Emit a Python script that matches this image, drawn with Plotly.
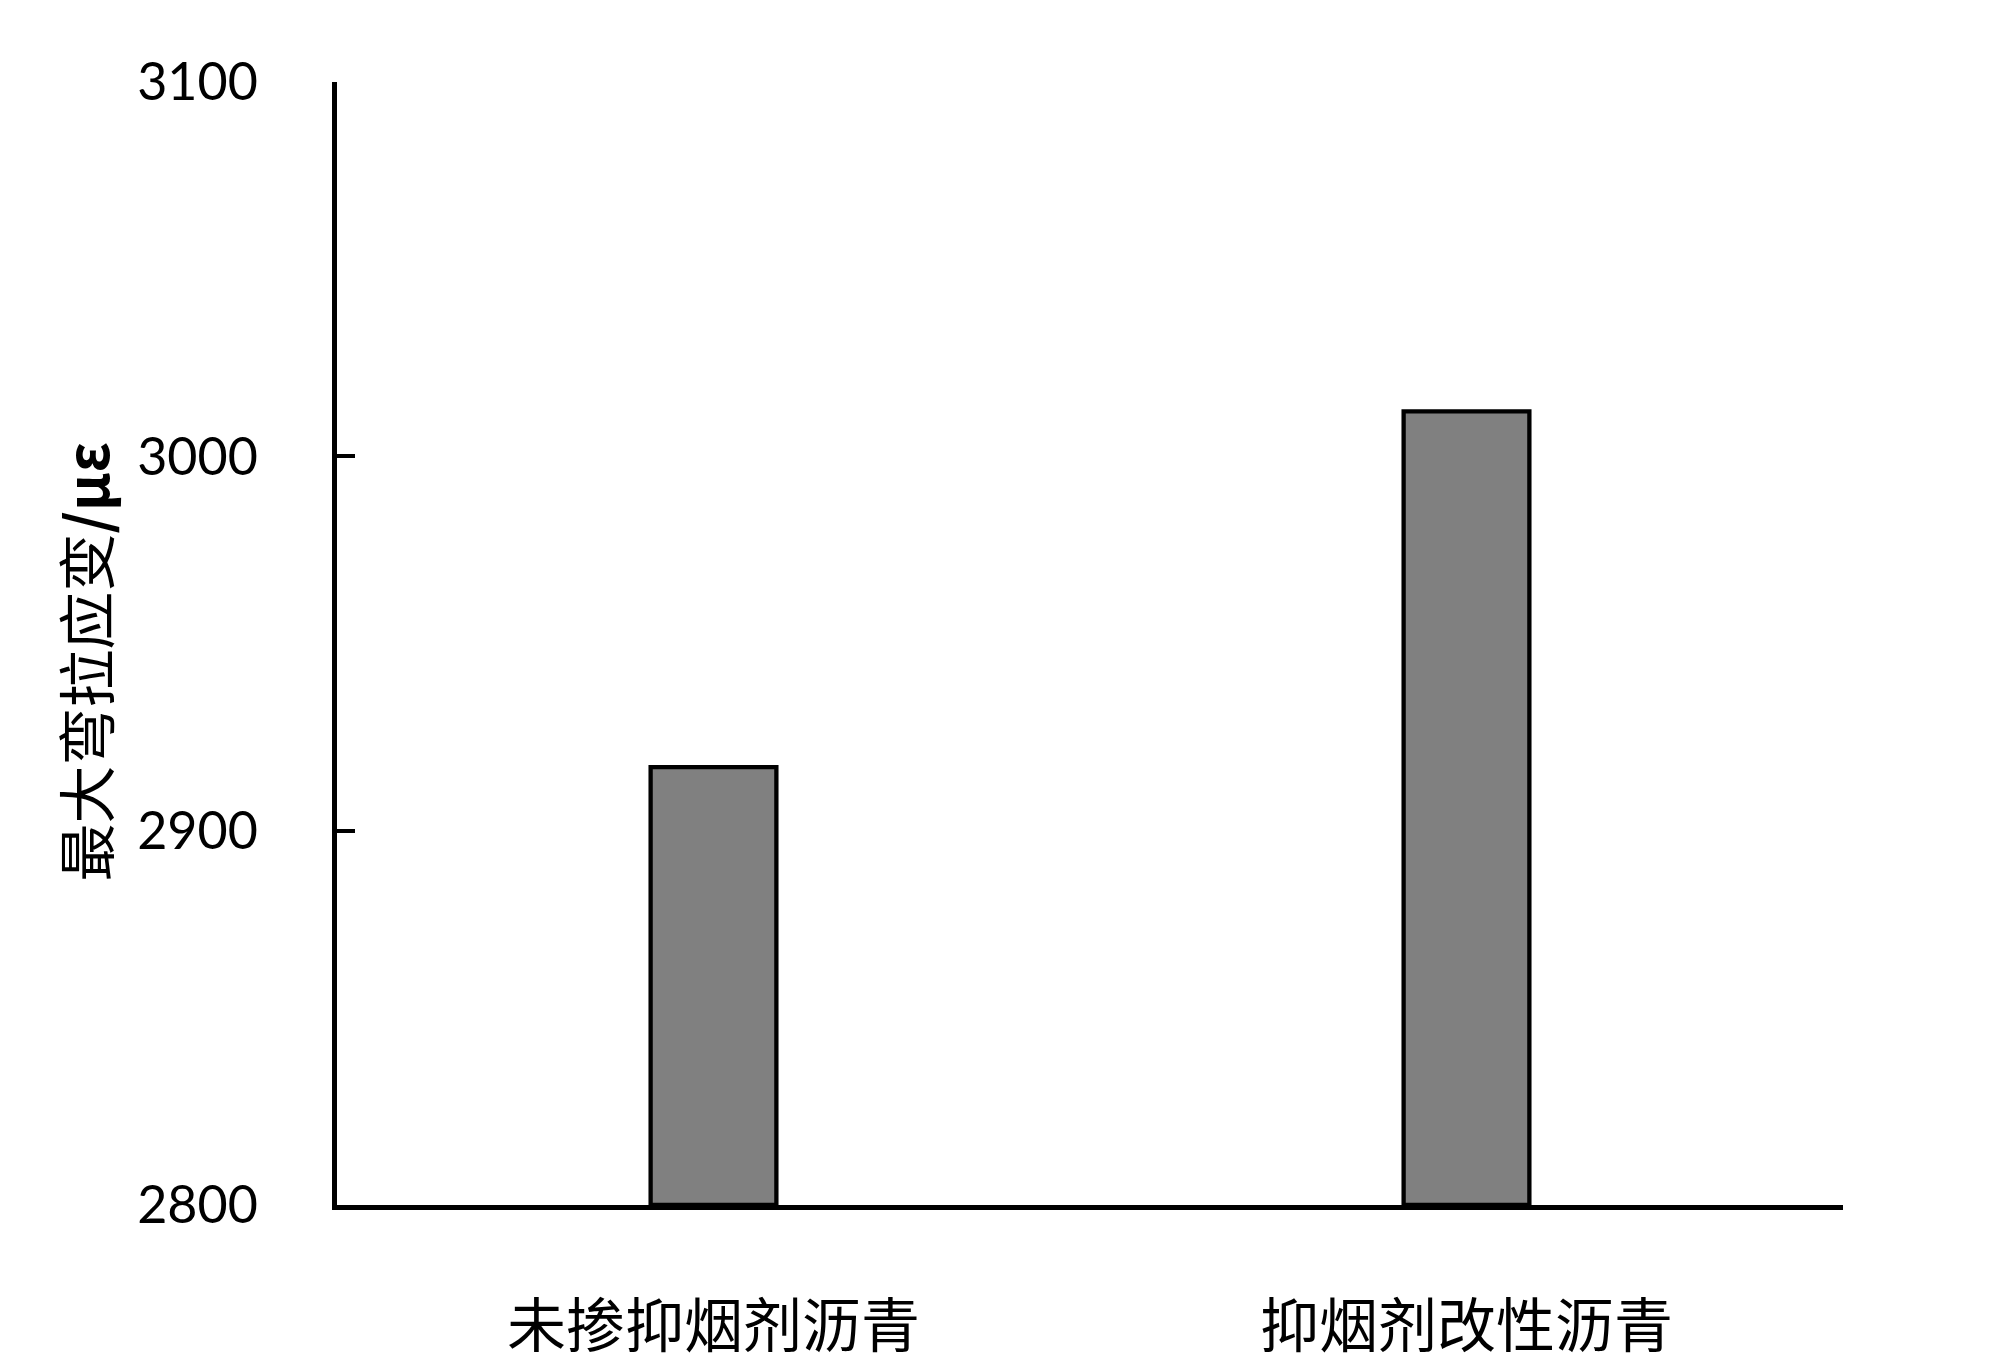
import plotly.graph_objects as go

categories = ["未掺抑烟剂沥青", "抑烟剂改性沥青"]
max_strain = [2917, 3012]
y_ticks = [2800, 2900, 3000, 3100]
y_base = 2800

fig = go.Figure()
fig.add_trace(go.Bar(
    x=categories,
    y=[v - y_base for v in max_strain],
    base=y_base,
    width=0.167,
    marker=dict(color="#808080", line=dict(color="black", width=4.3)),
))

# page body adds an 8px offset, margins compensate for it
fig.update_layout(
    template="none",
    width=2000, height=1370,
    margin=dict(l=329, r=165, t=74, b=173, pad=0),
    plot_bgcolor="white", paper_bgcolor="white",
    showlegend=False,
    font=dict(family="Lato, Noto Sans CJK SC", color="black"),
)
fig.update_yaxes(
    range=[2800, 3100], tickvals=y_ticks, automargin=False,
    showline=True, linecolor="black", linewidth=4.5,
    ticks="inside", ticklen=18, tickwidth=4, tickcolor="black",
    showgrid=False, zeroline=False,
    tickfont=dict(family="Lato", size=52, color="black"),
    ticklabelstandoff=64,
)
fig.update_xaxes(
    automargin=False,
    showline=True, linecolor="black", linewidth=4.5,
    ticks="", showgrid=False, zeroline=False,
    tickfont=dict(family="Noto Sans CJK SC", size=59, color="black"),
    ticklabelstandoff=66,
)
fig.add_annotation(
    text="最大弯拉应变<b>/με</b>",
    xref="paper", yref="paper", x=-0.168, y=0.484,
    xanchor="center", yanchor="middle", textangle=-90, showarrow=False,
    font=dict(family="Noto Sans CJK SC", size=58, color="black"),
)

fig.write_html("out.html")
